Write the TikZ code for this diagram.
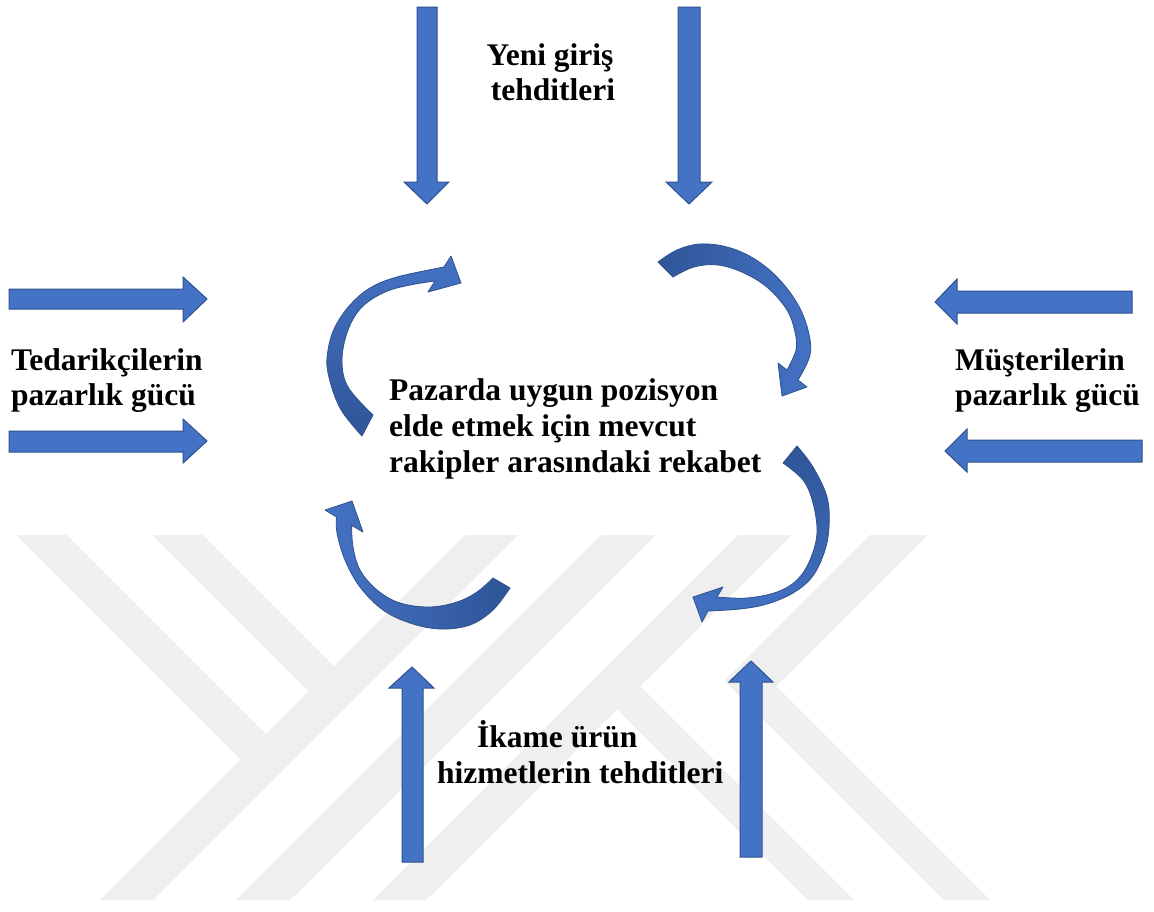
\documentclass[tikz,border=0pt]{standalone}
\usepackage{fontspec}
\setmainfont{Liberation Serif}
\definecolor{blk}{HTML}{4472C4}
\definecolor{blkdark}{HTML}{2F5597}
\definecolor{blkline}{HTML}{2F528F}
\definecolor{wm}{RGB}{239,239,239}
\tikzset{
  blockarrow/.style={fill=blk, draw=blkline, line width=1pt, line join=miter},
  curvedarrow/.style={draw=blkline, line width=0.8pt, line join=round},
  lbl/.style={font=\fontsize{31.5}{36}\selectfont\bfseries, inner sep=0pt, anchor=base west},
  lblc/.style={font=\fontsize{31.5}{36}\selectfont\bfseries, inner sep=0pt, anchor=base},
  wmband/.style={fill=wm, draw=none},
}
\begin{document}
\begin{tikzpicture}[x=1pt,y=-1pt]
\useasboundingbox[fill=white] (0,0) rectangle (1154,911);
% watermark
\fill[wmband] (17,535) -- (67,535) -- (266,734) -- (241,759) -- cycle;
\fill[wmband] (153,535) -- (203,535) -- (334,666) -- (309,691) -- cycle;
\fill[wmband] (465,535) -- (518,535) -- (153,900) -- (100,900) -- cycle;
\fill[wmband] (601,535) -- (655,535) -- (290,900) -- (236,900) -- cycle;
\fill[wmband] (738,535) -- (791,535) -- (426,900) -- (373,900) -- cycle;
\fill[wmband] (870,535) -- (927,535) -- (776,686) -- (990,900) -- (944,900) -- (724.5,680.5) -- cycle;
\fill[wmband] (617,709) -- (640,686) -- (854,900) -- (808,900) -- cycle;
% straight block arrows
\draw[blockarrow] (417,7) -- (437,7) -- (437,182) -- (449,182) -- (427,204) -- (404,182) -- (417,182) -- cycle;
\draw[blockarrow] (678,7) -- (700,7) -- (700,182) -- (712,182) -- (689,204) -- (666,182) -- (678,182) -- cycle;
\draw[blockarrow] (9,289) -- (183,289) -- (183,277) -- (207,299) -- (183,322) -- (183,309) -- (9,309) -- cycle;
\draw[blockarrow] (9,431) -- (183,431) -- (183,419) -- (207,441) -- (183,463) -- (183,452) -- (9,452) -- cycle;
\draw[blockarrow] (1132,291) -- (957,291) -- (957,279) -- (935,302) -- (957,324) -- (957,313) -- (1132,313) -- cycle;
\draw[blockarrow] (1142,440) -- (967,440) -- (967,429) -- (945,451) -- (967,472) -- (967,462) -- (1142,462) -- cycle;
\draw[blockarrow] (402,862) -- (402,688) -- (389,688) -- (412,667) -- (434,688) -- (423,688) -- (423,862) -- cycle;
\draw[blockarrow] (740,857) -- (740,682) -- (729,682) -- (751,661) -- (773,682) -- (762,682) -- (762,857) -- cycle;
% curved arrows
\shadedraw[curvedarrow, top color=blk, middle color=blk, bottom color=blkdark]
  plot[smooth,tension=0.6] coordinates {(362,436) (340,408) (328,373) (328,350) (335,327) (350,305) (370,288) (397,277) (444,267)}
  -- (451,256) -- (461,283) -- (428,292) --
  plot[smooth,tension=0.6] coordinates {(435,281) (410,285) (385,292) (362,307) (348,330) (342,360) (348,387) (373,415)} -- cycle;
\shadedraw[curvedarrow, left color=blkdark, right color=blk]
  plot[smooth,tension=0.6] coordinates {(658,262) (677,250) (700,244) (727,247) (753,258) (777,277) (797,303) (808,330) (810,355) (798,380)}
  -- (807,387) -- (782,396) -- (778,363) --
  plot[smooth,tension=0.6] coordinates {(787,370) (796,350) (795,332) (787,310) (768,288) (744,273) (718,265) (694,267) (673,277)} -- cycle;
\shadedraw[curvedarrow, top color=blkdark, bottom color=blk]
  plot[smooth,tension=0.6] coordinates {(797,446) (813,467) (827,497) (829,527) (824,553) (812,577) (793,593) (767,604) (740,609) (708,611)}
  -- (702,622) -- (693,597) -- (723,587) --
  plot[smooth,tension=0.6] coordinates {(717,597) (747,598) (777,592) (797,580) (810,560) (817,533) (813,503) (803,480) (783,463)} -- cycle;
\shadedraw[curvedarrow, left color=blk, right color=blkdark]
  plot[smooth,tension=0.6] coordinates {(510,588) (493,610) (470,625) (440,629) (410,623) (383,610) (360,587) (345,560) (337,533) (336.5,517)}
  -- (325,510) -- (352,501) -- (363,532) --
  plot[smooth,tension=0.6] coordinates {(351.6,525.4) (353,547) (360,570) (377,590) (400,603) (430,607) (457,602) (477,592) (493,578)} -- cycle;
% labels
\node[lblc] (top1) at (550,65) {Yeni giriş};
\node[lblc] (top2) at (553,100) {tehditleri};
\node[lbl] (left1) at (11,370) {Tedarikçilerin};
\node[lbl] (left2) at (11,405) {pazarlık gücü};
\node[lbl] (right1) at (955,370) {Müşterilerin};
\node[lbl] (right2) at (955,405) {pazarlık gücü};
\node[lbl] (mid1) at (389,400) {Pazarda uygun pozisyon};
\node[lbl] (mid2) at (389,436) {elde etmek için mevcut};
\node[lbl] (mid3) at (389,472) {rakipler arasındaki rekabet};
\node[lbl] (bot1) at (477,747) {İkame ürün};
\node[lbl] (bot2) at (437,783) {hizmetlerin tehditleri};
\end{tikzpicture}
\end{document}
